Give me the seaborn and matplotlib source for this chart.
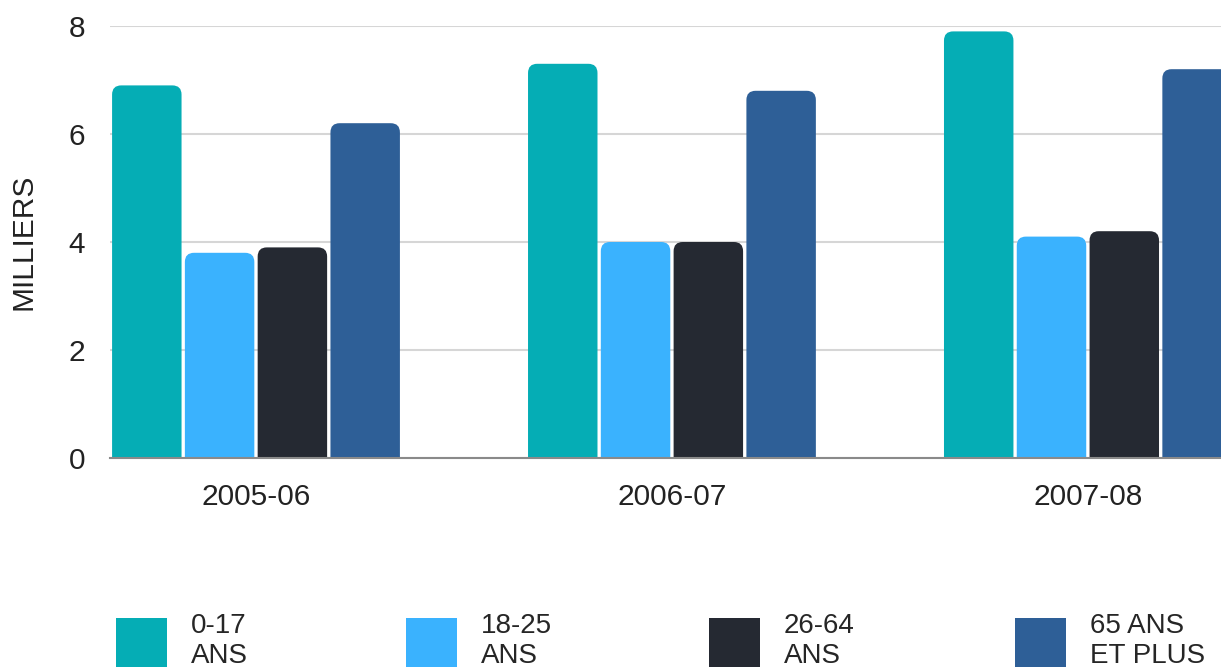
import pandas as pd
import matplotlib.pyplot as plt
from matplotlib.patches import FancyBboxPatch, Patch
import seaborn as sns

# données (milliers)
periodes = ["2005-06", "2006-07", "2007-08"]
groupes = ["0-17\nANS", "18-25\nANS", "26-64\nANS", "65 ANS\nET PLUS"]
val_0_17 = [6.9, 7.3, 7.9]
val_18_25 = [3.8, 4.0, 4.1]
val_26_64 = [3.9, 4.0, 4.2]
val_65_plus = [6.2, 6.8, 7.2]
couleurs = ["#05adb5", "#3ab2fe", "#252932", "#2e5f97"]

series = [val_0_17, val_18_25, val_26_64, val_65_plus]
rows = []
for g, vals in zip(groupes, series):
    for p, v in zip(periodes, vals):
        rows.append({"periode": p, "groupe": g, "valeur": v})
df = pd.DataFrame(rows)

sns.set_style("white")
plt.rcParams["font.family"] = ["Liberation Sans", "DejaVu Sans"]

fig = plt.figure(figsize=(12.21, 6.69), dpi=100)
ax = fig.add_axes([110 / 1221, 1 - 458 / 669, 1 - 110 / 1221, (458 - 26) / 669])

sns.barplot(data=df, x="periode", y="valeur", hue="groupe", palette=couleurs,
            saturation=1, width=0.70, legend=False, ax=ax, zorder=2)

# coins arrondis en haut des barres
aspect = 416 / 54
for bar in list(ax.patches):
    x, w, h = bar.get_x(), bar.get_width(), bar.get_height()
    fc = bar.get_facecolor()
    bar.remove()
    ax.add_patch(FancyBboxPatch((x + 0.004, -0.5), w - 0.008, h + 0.5,
                                boxstyle="round,pad=0,rounding_size=0.022",
                                mutation_aspect=aspect, facecolor=fc,
                                edgecolor="none", zorder=2))

ax.set_xlim(-0.351, 2.32)
ax.set_ylim(0, 8)
ax.set_yticks([0, 2, 4, 6, 8])
ax.yaxis.grid(True, color="#d6d6d6", linewidth=1.5, zorder=0)
ax.set_axisbelow(True)
for s in ["top", "right", "left"]:
    ax.spines[s].set_visible(False)
ax.spines["bottom"].set_color("#8a8a8a")
ax.spines["bottom"].set_linewidth(1.5)
ax.spines["bottom"].set_zorder(3)
ax.tick_params(axis="y", length=0, pad=18, labelsize=21.5, labelcolor="#222222")
ax.tick_params(axis="x", length=0, pad=18, labelsize=21.5, labelcolor="#222222")
ax.set_xlabel("")
ax.set_ylabel("MILLIERS", fontsize=21.5, color="#222222", labelpad=22)

# légende en bas, une entrée par bloc
pos_x = [116, 406, 709, 1015]
for g, c, px in zip(groupes, couleurs, pos_x):
    fig.legend(handles=[Patch(facecolor=c, edgecolor="none")], labels=[g],
               loc="center left", bbox_to_anchor=(px / 1221, 1 - 641 / 669),
               frameon=False, fontsize=20, handlelength=1.83, handleheight=2.35,
               handletextpad=0.86, borderpad=0, borderaxespad=0,
               labelspacing=0)

fig.savefig("out.png", dpi=100)
